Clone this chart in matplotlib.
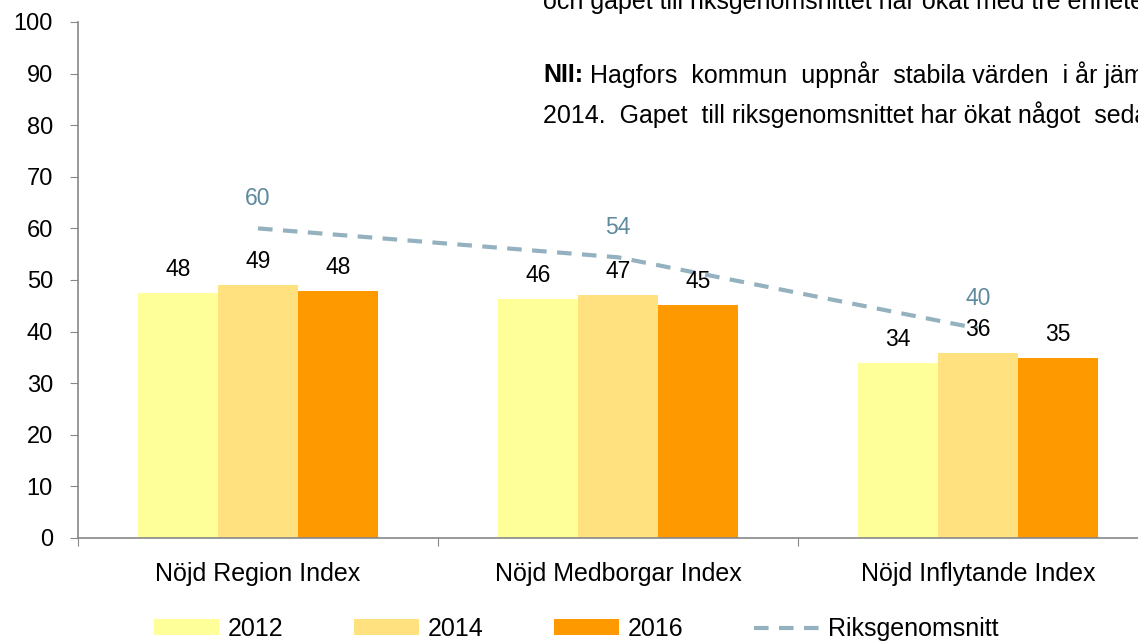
import matplotlib
matplotlib.use("Agg")
import matplotlib.pyplot as plt
from matplotlib.patches import Patch
from matplotlib.lines import Line2D
import numpy as np

plt.rcParams['font.family'] = ['Liberation Sans', 'DejaVu Sans']

categories = ["Nöjd Region Index", "Nöjd Medborgar Index", "Nöjd Inflytande Index"]
years = ["2012", "2014", "2016"]
v2012 = [47.5, 46.3, 33.9]
v2014 = [49.0, 47.1, 35.9]
v2016 = [47.9, 45.2, 34.9]
labels2012 = ["48", "46", "34"]
labels2014 = ["49", "47", "36"]
labels2016 = ["48", "45", "35"]
riks = [60.0, 54.4, 40.6]
riks_labels = ["60", "54", "40"]
yticks = [0, 10, 20, 30, 40, 50, 60, 70, 80, 90, 100]

colors = ["#FFFF99", "#FFE17F", "#FF9900"]
line_color = "#93B1BF"
line_label_color = "#5F8A9E"

W, H = 1138, 642
fig = plt.figure(figsize=(W/100, H/100), dpi=100)
ax = fig.add_axes([78/W, 1 - 538/H, 1 - 78/W, (538-22)/H])

x = np.arange(len(categories))
bw = 80/360
series = [v2012, v2014, v2016]
lbls = [labels2012, labels2014, labels2016]
for i, (vals, lab, c) in enumerate(zip(series, lbls, colors)):
    xs = x + (i - 1) * bw
    ax.bar(xs, vals, width=bw, color=c, edgecolor='none', zorder=2)
    for xx, v, t in zip(xs, vals, lab):
        ax.annotate(t, (xx, v), xytext=(0, 17), textcoords='offset points',
                    ha='center', va='center', fontsize=16.5, color='black', zorder=4)

ax.plot(x, riks, color=line_color, lw=3, dashes=(3.5, 2.5), zorder=3)
for xx, v, t in zip(x, riks, riks_labels):
    ax.annotate(t, (xx, v), xytext=(0, 21.5), textcoords='offset points',
                ha='center', va='center', fontsize=16.5, color=line_label_color, zorder=4)

ax.set_yticks(yticks)
ax.tick_params(axis='y', direction='out', length=6, color='#888888', labelsize=17, pad=12)
ax.set_xticks([-0.5, 0.5, 1.5])
ax.set_xticklabels([])
ax.set_xticks(x, minor=True)
ax.set_xticklabels(categories, minor=True, fontsize=18)
ax.tick_params(axis='x', which='major', direction='out', length=6, color='#888888')
ax.tick_params(axis='x', which='minor', length=0, pad=17)
ax.set_xlim(-0.5, -0.5 + (W - 78) / 360)
ax.set_ylim(0, 100)
for s in ['top', 'right']:
    ax.spines[s].set_visible(False)
for s in ['left', 'bottom']:
    ax.spines[s].set_color('#888888')
    ax.spines[s].set_linewidth(1.2)

# overlay text (running off the figure edge, as in the reference)
fig.text(543/W, 1 - 2/H, "och gapet till riksgenomsnittet har ökat med tre enheter sedan 2014.",
         fontsize=18, va='center', ha='left')
t_nii = fig.text(543/W, 1 - 75/H, "NII:", fontsize=18, fontweight='bold', va='center', ha='left')
ax.annotate("Hagfors  kommun  uppnår  stabila värden  i år jämfört med",
            xy=(1, 0.5), xycoords=t_nii, xytext=(5, 0), textcoords='offset points',
            fontsize=18, va='center', ha='left', annotation_clip=False)
fig.text(543/W, 1 - 115/H, "2014.  Gapet  till riksgenomsnittet har ökat något  sedan 2014.",
         fontsize=18, va='center', ha='left')

handles = [Patch(facecolor=c, edgecolor='none') for c in colors]
handles.append(Line2D([0], [0], color=line_color, lw=3, dashes=(3.5, 2.5)))
fig.legend(handles, years + ["Riksgenomsnitt"], loc='center', bbox_to_anchor=(576/W, 1 - 629/H),
           ncol=4, frameon=False, fontsize=18, handlelength=2.6, handleheight=0.6,
           columnspacing=2.82, handletextpad=0.36)

fig.savefig("out.png", dpi=100)
